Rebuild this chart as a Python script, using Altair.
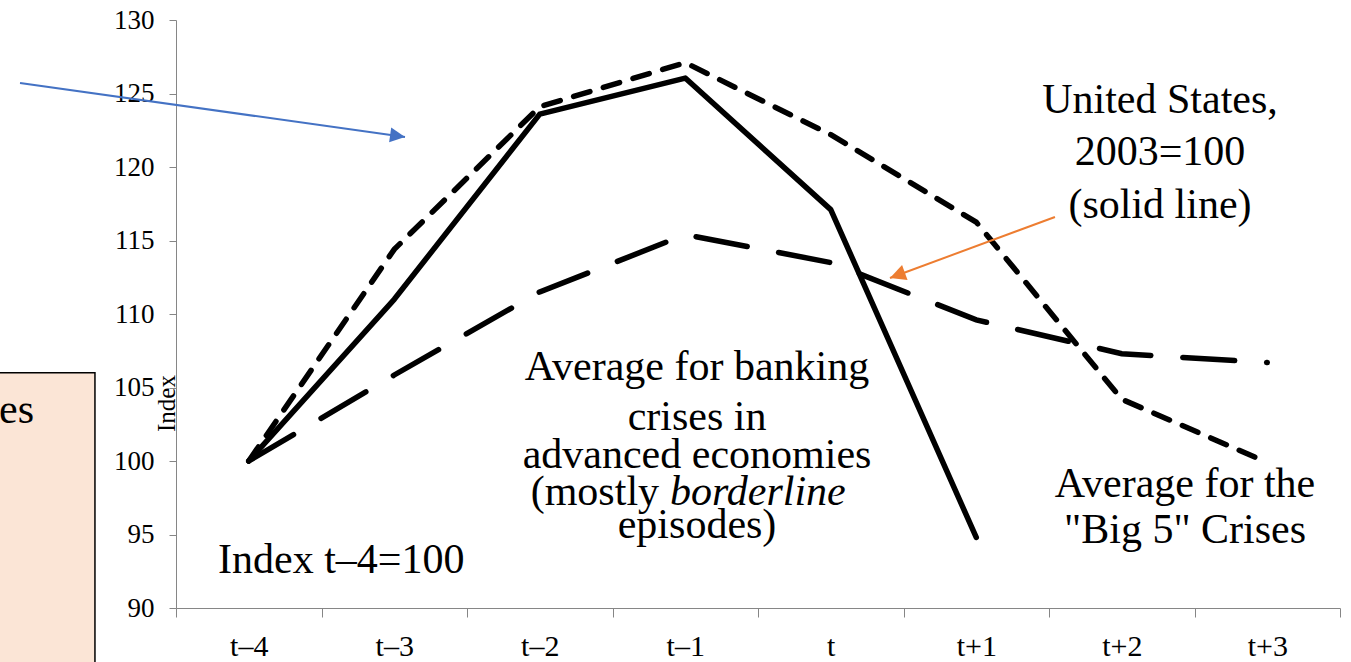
import math

import altair as alt
import pandas as pd

# ---- data -----------------------------------------------------------------
periods = ["t–4", "t–3", "t–2", "t–1", "t", "t+1", "t+2", "t+3"]

# United States, 2003=100 (solid line) – observed through t+1
us_2003 = [100.0, 111.0, 123.6, 126.05, 117.1, 94.8]
# Average for the "Big 5" crises
big5_avg = [100.0, 114.4, 124.1, 127.1, 122.2, 116.25, 104.2, 99.9]
# Average for banking crises in advanced economies (borderline episodes)
borderline_avg = [100.0, 105.85, 111.5, 115.4, 113.5, 109.6, 107.3, 106.7]

y_ticks = [90, 95, 100, 105, 110, 115, 120, 125, 130]

# ---- layout ---------------------------------------------------------------
W, H = 1164, 588
X_DOMAIN = [-0.5, 7.5]
Y_DOMAIN = [90, 130]
FONT = "Liberation Serif"
AXIS_GREY = "#868686"
NOTE_SIZE = 42

PX_X = W / (X_DOMAIN[1] - X_DOMAIN[0])
PX_Y = H / (Y_DOMAIN[1] - Y_DOMAIN[0])

x_scale = alt.Scale(domain=X_DOMAIN, nice=False, zero=False)
y_scale = alt.Scale(domain=Y_DOMAIN, nice=False, zero=False)

label_array = "[" + ",".join("'%s'" % p for p in periods) + "]"
x_axis = alt.Axis(
    values=[X_DOMAIN[0] + i for i in range(len(periods) + 1)],
    labelExpr=label_array + "[round(datum.value + 0.5)] || ''",
    labelOffset=PX_X / 2,
    labelFlush=False,
    labelOverlap=False,
    labelFont=FONT,
    labelFontSize=30,
    labelColor="black",
    labelPadding=14,
    tickSize=9,
    tickColor=AXIS_GREY,
    domainColor=AXIS_GREY,
    grid=False,
    title=None,
)
y_axis = alt.Axis(
    values=y_ticks,
    labelFont=FONT,
    labelFontSize=27,
    labelColor="black",
    labelPadding=15,
    tickSize=7,
    tickColor=AXIS_GREY,
    domainColor=AXIS_GREY,
    grid=False,
    title="Index",
    titleFont=FONT,
    titleFontSize=25,
    titleFontWeight="normal",
    titleColor="black",
    titleAngle=270,
    titleAlign="center",
    titleBaseline="middle",
    titleX=-10,
    titleY=383,
)


def X(field="pos"):
    return alt.X(f"{field}:Q", scale=x_scale, axis=x_axis)


def Y(field="value"):
    return alt.Y(f"{field}:Q", scale=y_scale, axis=y_axis, title="Index")


def series(values):
    return pd.DataFrame({"pos": list(range(len(values))), "value": values})


# ---- lines ----------------------------------------------------------------
big5_line = alt.Chart(series(big5_avg)).mark_line(
    color="black", strokeWidth=5.5, strokeCap="round", strokeDash=[17, 14]
).encode(x=X(), y=Y())

border_line = alt.Chart(series(borderline_avg)).mark_line(
    color="black", strokeWidth=5.5, strokeCap="round", strokeDash=[52, 32]
).encode(x=X(), y=Y())

us_line = alt.Chart(series(us_2003)).mark_line(
    color="black", strokeWidth=5.5, strokeCap="round", strokeJoin="round"
).encode(x=X(), y=Y())

# ---- side panel (partly outside the plot) ---------------------------------
panel = alt.Chart(
    pd.DataFrame({"pos": [-1.75], "pos2": [-1.057], "value": [106.0], "value2": [85.0]})
).mark_rect(fill="#FBE5D6", stroke="black", strokeWidth=1.5).encode(
    x=X(), x2="pos2:Q", y=Y(), y2="value2:Q"
)


# ---- annotations ----------------------------------------------------------
def note(rows, align="center", style="normal"):
    df = pd.DataFrame(rows, columns=["text", "pos", "value"])
    return alt.Chart(df).mark_text(
        font=FONT,
        fontSize=NOTE_SIZE,
        fontStyle=style,
        align=align,
        baseline="alphabetic",
        color="black",
    ).encode(text="text:N", x=X(), y=Y())


notes = [
    note([
        ("United States,", 6.263, 123.67),
        ("2003=100", 6.263, 120.14),
        ("(solid line)", 6.263, 116.53),
    ]),
    note([
        ("Average for banking", 3.081, 105.51),
        ("crises in", 3.081, 102.11),
        ("advanced economies", 3.081, 99.52),
        ("episodes)", 3.081, 94.76),
    ]),
    note([("(mostly", 2.82, 97.0)], align="right"),
    note([("borderline", 2.895, 97.0)], align="left", style="italic"),
    note([
        ("Average for the", 6.435, 97.55),
        ('"Big 5" Crises', 6.435, 94.42),
    ]),
    note([("Index t–4=100", -0.211, 92.38)], align="left"),
    note([("es", -1.476, 102.59)], align="right"),
]


def arrow(x0, y0, x1, y1, color, head_size=900):
    dx = (x1 - x0) * PX_X
    dy = -(y1 - y0) * PX_Y
    angle = math.degrees(math.atan2(dy, dx)) % 360
    shaft = alt.Chart(
        pd.DataFrame({"pos": [x0], "pos2": [x1], "value": [y0], "value2": [y1]})
    ).mark_rule(color=color, strokeWidth=2).encode(
        x=X(), x2="pos2:Q", y=Y(), y2="value2:Q"
    )
    head = alt.Chart(pd.DataFrame({"pos": [x1], "value": [y1]})).mark_point(
        shape="M 0 0 L -1 -0.5 L -1 0.5 Z",
        filled=True,
        opacity=1,
        color=color,
        size=head_size,
        angle=angle,
    ).encode(x=X(), y=Y())
    return shaft + head


blue_arrow = arrow(-1.572, 125.71, 1.074, 122.04, "#4472C4")
orange_arrow = arrow(5.541, 116.60, 4.407, 112.45, "#ED7D31", head_size=1000)

chart = alt.layer(
    panel,
    big5_line,
    border_line,
    us_line,
    *notes,
    blue_arrow,
    orange_arrow,
).properties(
    width=W,
    height=H,
    padding={"left": 176, "top": 20, "right": 11, "bottom": 54},
    autosize=alt.AutoSizeParams(type="none"),
    background="white",
).configure_view(stroke=None)

chart.save("out.html", embed_options={"renderer": "svg", "actions": False})
